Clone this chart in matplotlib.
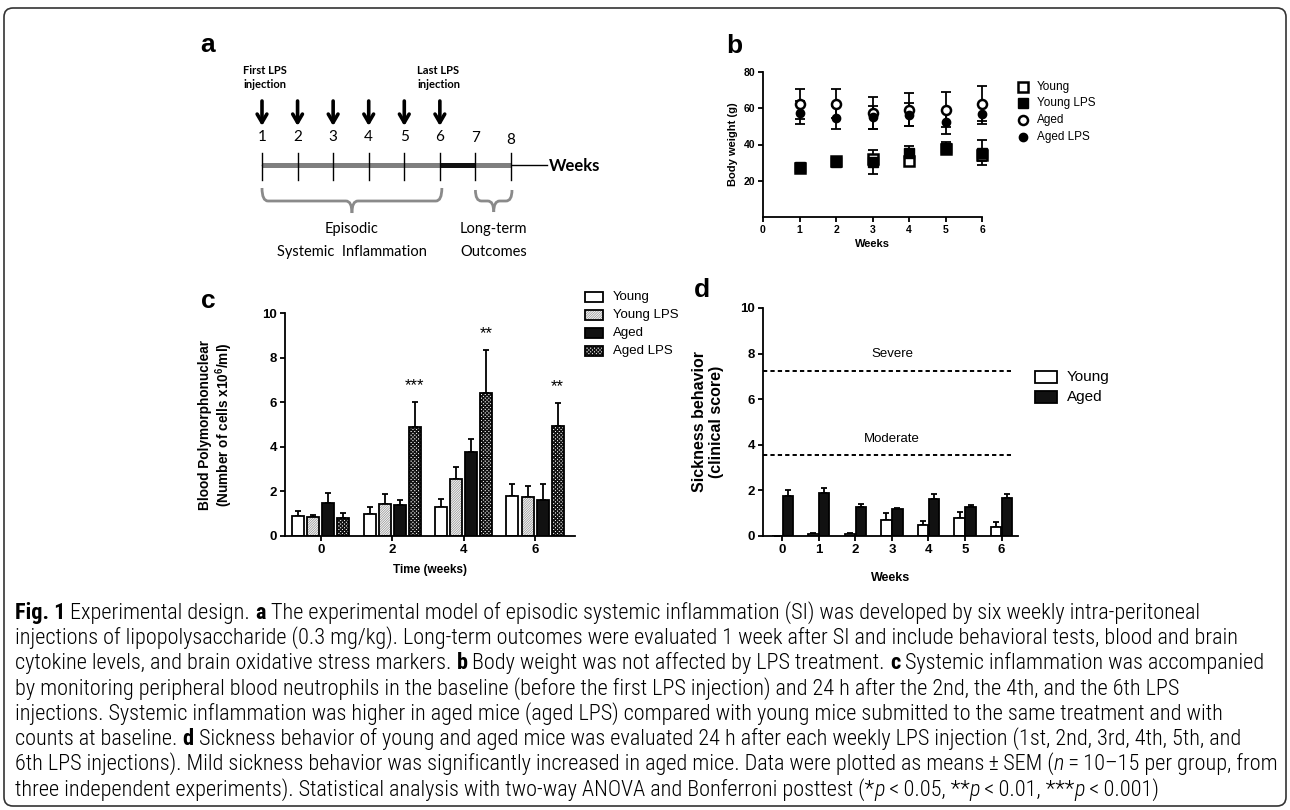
import matplotlib
matplotlib.use('Agg')
import matplotlib.pyplot as plt
import numpy as np
from matplotlib import font_manager
from matplotlib.patches import Rectangle, FancyBboxPatch, PathPatch
from matplotlib.path import Path

# ---------------- data ----------------
# panel a
weeks_a = [1, 2, 3, 4, 5, 6, 7, 8]
injection_weeks = [1, 2, 3, 4, 5, 6]

# panel b: body weight (g)
weeks_b = [1, 2, 3, 4, 5, 6]
young_bw = [27.0, 31.0, 32.0, 31.0, 37.5, 34.0]
young_bw_err = [1.5, 1.5, 2.0, 1.5, 3.0, 3.0]
young_lps_bw = [27.5, 30.5, 30.5, 35.5, 38.0, 35.5]
young_lps_bw_err = [1.5, 1.5, 6.5, 3.5, 3.5, 7.0]
aged_bw = [62.2, 62.6, 57.4, 59.3, 59.3, 62.6]
aged_bw_err = [8.2, 8.0, 8.8, 9.0, 9.5, 9.5]
aged_lps_bw = [57.6, 54.7, 54.9, 56.5, 52.3, 56.7]
aged_lps_bw_err = [6.4, 6.3, 6.5, 6.2, 6.4, 5.5]
legend_b = ['Young', 'Young LPS', 'Aged', 'Aged LPS']

# panel c: blood polymorphonuclear cells
time_labels_c = ['0', '2', '4', '6']
young_pmn = [0.90, 1.00, 1.30, 1.80]
young_pmn_err = [0.20, 0.30, 0.35, 0.55]
young_lps_pmn = [0.85, 1.45, 2.55, 1.75]
young_lps_pmn_err = [0.10, 0.45, 0.55, 0.50]
aged_pmn = [1.50, 1.40, 3.75, 1.60]
aged_pmn_err = [0.45, 0.20, 0.60, 0.75]
aged_lps_pmn = [0.80, 4.90, 6.40, 4.95]
aged_lps_pmn_err = [0.25, 1.10, 1.95, 1.00]
stars_c = ['', '***', '**', '**']
legend_c = ['Young', 'Young LPS', 'Aged', 'Aged LPS']

# panel d: sickness behaviour
weeks_d = [0, 1, 2, 3, 4, 5, 6]
young_sick = [0.00, 0.10, 0.10, 0.70, 0.50, 0.80, 0.40]
young_sick_err = [0.00, 0.05, 0.05, 0.30, 0.15, 0.25, 0.20]
aged_sick = [1.77, 1.90, 1.29, 1.18, 1.62, 1.29, 1.68]
aged_sick_err = [0.25, 0.19, 0.11, 0.06, 0.21, 0.07, 0.16]
severe_level = 7.25
moderate_level = 3.55
legend_d = ['Young', 'Aged']

# caption (text, style) segments per line
caption_lines = [
    [("Fig. 1", 'b'), (" Experimental design. ", ''), ("a", 'b'),
     (" The experimental model of episodic systemic inflammation (SI) was developed by six weekly intra-peritoneal", '')],
    [("injections of lipopolysaccharide (0.3 mg/kg). Long-term outcomes were evaluated 1 week after SI and include behavioral tests, blood and brain", '')],
    [("cytokine levels, and brain oxidative stress markers. ", ''), ("b", 'b'),
     (" Body weight was not affected by LPS treatment. ", ''), ("c", 'b'),
     (" Systemic inflammation was accompanied", '')],
    [("by monitoring peripheral blood neutrophils in the baseline (before the first LPS injection) and 24 h after the 2nd, the 4th, and the 6th LPS", '')],
    [("injections. Systemic inflammation was higher in aged mice (aged LPS) compared with young mice submitted to the same treatment and with", '')],
    [("counts at baseline. ", ''), ("d", 'b'),
     (" Sickness behavior of young and aged mice was evaluated 24 h after each weekly LPS injection (1st, 2nd, 3rd, 4th, 5th, and", '')],
    [("6th LPS injections). Mild sickness behavior was significantly increased in aged mice. Data were plotted as means\u2009\u00b1\u2009SEM (", ''),
     ("n", 'i'), ("\u2009=\u200910\u201315 per group, from", '')],
    [("three independent experiments). Statistical analysis with two-way ANOVA and Bonferroni posttest (*", ''),
     ("p", 'i'), ("\u2009<\u20090.05, **", ''), ("p", 'i'), ("\u2009<\u20090.01, ***", ''), ("p", 'i'), ("\u2009<\u20090.001)", '')],
]

# ---------------- fonts ----------------
names = {f.name for f in font_manager.fontManager.ttflist}
SANS = 'Liberation Sans' if 'Liberation Sans' in names else 'DejaVu Sans'
DIAG = 'Lato' if 'Lato' in names else SANS
if 'Liberation Sans Narrow' in names:
    CAP_FAMILY, CAP_STRETCH, CAP_WEIGHT = 'Liberation Sans Narrow', 'normal', 'normal'
elif 'Roboto Condensed' in names:
    CAP_FAMILY, CAP_STRETCH, CAP_WEIGHT = 'Roboto Condensed', 'normal', 'light'
else:
    CAP_FAMILY, CAP_STRETCH, CAP_WEIGHT = 'DejaVu Sans', 'condensed', 'normal'

plt.rcParams['font.family'] = [SANS, 'DejaVu Sans']
plt.rcParams['mathtext.fontset'] = 'custom'
plt.rcParams['mathtext.rm'] = SANS
plt.rcParams['mathtext.bf'] = SANS + ':bold'
plt.rcParams['mathtext.it'] = SANS + ':italic'

W, H = 1290, 810
fig = plt.figure(figsize=(W / 100, H / 100), dpi=100)

# overlay axes in pixel coordinates
ov = fig.add_axes([0, 0, 1, 1])
ov.set_xlim(0, W)
ov.set_ylim(H, 0)
ov.axis('off')

def px_axes(x0, y0, x1, y1):
    ax = fig.add_axes([x0 / W, 1 - y1 / H, (x1 - x0) / W, (y1 - y0) / H])
    ax.patch.set_alpha(0)
    return ax

def prism_style(ax, tick_size, lw=1.3):
    for s in ['top', 'right']:
        ax.spines[s].set_visible(False)
    for s in ['left', 'bottom']:
        ax.spines[s].set_linewidth(lw)
    ax.tick_params(direction='out', length=3.5, width=lw, labelsize=tick_size, pad=2)
    for lbl in ax.get_xticklabels() + ax.get_yticklabels():
        lbl.set_fontweight('bold')

# outer frame
ov.add_patch(FancyBboxPatch((4, 8), W - 8, H - 12, boxstyle='round,pad=0,rounding_size=9',
                            fill=False, ec='#333333', lw=1.2))

# ---------------- panel a ----------------
def wx(w):
    return 262 + (w - 1) * (511 - 262) / 7.0

ov.text(208, 52, 'a', fontsize=19, fontweight='bold', ha='center', va='baseline')
ov.text(243, 71, 'First LPS', fontsize=8, fontweight='bold', family=DIAG, va='center')
ov.text(243, 84, 'injection', fontsize=8, fontweight='bold', family=DIAG, va='center')
ov.text(417, 71, 'Last LPS', fontsize=8, fontweight='bold', family=DIAG, va='center')
ov.text(417, 84, 'injection', fontsize=8, fontweight='bold', family=DIAG, va='center')
for w in injection_weeks:
    ov.annotate('', xy=(wx(w), 126), xytext=(wx(w), 101),
                arrowprops=dict(arrowstyle='->,head_length=0.6,head_width=0.35', lw=2.6,
                                color='k', shrinkA=0, shrinkB=0))
for w in weeks_a:
    dy = 3 if w == 8 else (1 if w == 7 else 0)
    ov.text(wx(w), 137 + dy, str(w), fontsize=11, family=DIAG, ha='center', va='center')
ov.plot([wx(1), 547], [165, 165], color='k', lw=1.0)
ov.plot([wx(1), wx(6)], [165, 165], color='#7f7f7f', lw=3.6, solid_capstyle='butt')
ov.plot([wx(6), wx(7)], [165, 165], color='#111111', lw=3.6, solid_capstyle='butt')
ov.plot([wx(7), wx(8)], [165, 165], color='#7f7f7f', lw=3.6, solid_capstyle='butt')
for w in weeks_a:
    ov.plot([wx(w), wx(w)], [153, 180], color='k', lw=1.0)
ov.text(549, 166, 'Weeks', fontsize=12, fontweight='bold', family=DIAG, ha='left', va='center')

def brace(x0, x1, ytop, ybar, ytip, r=6):
    xm = (x0 + x1) / 2.0
    for xs, sgn in ((x0, 1), (x1, -1)):
        verts = [(xs, ytop), (xs, ybar), (xs + sgn * r, ybar), (xm - sgn * r, ybar),
                 (xm, ybar), (xm, ytip)]
        codes = [Path.MOVETO, Path.CURVE3, Path.CURVE3, Path.LINETO, Path.CURVE3, Path.CURVE3]
        ov.add_patch(PathPatch(Path(verts, codes), fill=False, ec='#8a8a8a', lw=2.0))
    return xm

xm1 = brace(wx(1), wx(6) + 2, 188, 201, 213)
xm2 = brace(wx(7), wx(8) + 1, 190, 201, 212)
ov.text(xm1, 229, 'Episodic', fontsize=10.5, family=DIAG, ha='center', va='center')
ov.text(xm1, 252, 'Systemic  Inflammation', fontsize=10.5, family=DIAG, ha='center', va='center')
ov.text(xm2, 229, 'Long-term', fontsize=10.5, family=DIAG, ha='center', va='center')
ov.text(xm2, 252, 'Outcomes', fontsize=10.5, family=DIAG, ha='center', va='center')

# ---------------- panel b ----------------
ov.text(734, 53, 'b', fontsize=19, fontweight='bold', ha='center', va='baseline')
axb = px_axes(763, 72, 982, 217)
b_series = [
    (young_bw, young_bw_err, dict(marker='s', mfc='white', mec='k', mew=1.8, ms=6.5)),
    (young_lps_bw, young_lps_bw_err, dict(marker='s', mfc='k', mec='k', mew=1.0, ms=7)),
    (aged_bw, aged_bw_err, dict(marker='o', mfc='white', mec='k', mew=1.8, ms=6.5)),
    (aged_lps_bw, aged_lps_bw_err, dict(marker='o', mfc='k', mec='k', mew=1.0, ms=6)),
]
for vals, errs, st in b_series:
    axb.errorbar(weeks_b, vals, yerr=errs, fmt='none', ecolor='k', elinewidth=1.3,
                 capsize=3.5, capthick=1.3, clip_on=False)
    axb.plot(weeks_b, vals, ls='none', clip_on=False, zorder=3, **st)
axb.set_xlim(0, 6)
axb.set_ylim(0, 80)
axb.set_xticks(range(0, 7))
axb.set_yticks([20, 40, 60, 80])
prism_style(axb, 7.5)
axb.set_xlabel('Weeks', fontsize=8, fontweight='bold', labelpad=3)
axb.set_ylabel('Body weight (g)', fontsize=8, fontweight='bold', labelpad=4)
leg_y = [87, 103, 120, 137]
for (vals, errs, st), name, y in zip(b_series, legend_b, leg_y):
    ov.plot([1023], [y], ls='none', **st)
    ov.text(1037, y, name, fontsize=8.5, va='center', ha='left')

# ---------------- panel c ----------------
ov.text(208, 308, 'c', fontsize=19, fontweight='bold', ha='center', va='baseline')
axc = px_axes(285, 313, 575, 536)
xc = np.arange(len(time_labels_c))
bw = 0.168
offs = [-0.316, -0.105, 0.105, 0.316]
c_series = [
    (young_pmn, young_pmn_err, dict(color='white', hatch=None, hc=None, hlw=0)),
    (young_lps_pmn, young_lps_pmn_err, dict(color='white', hatch='/' * 14, hc='#9a9a9a', hlw=0.6)),
    (aged_pmn, aged_pmn_err, dict(color='#111111', hatch=None, hc=None, hlw=0)),
    (aged_lps_pmn, aged_lps_pmn_err, dict(color='white', hatch='x' * 9, hc='#111111', hlw=1.0)),
]

def hatched_rect(ax, x, y, w, h, st, lw=1.3, zorder=2):
    if st['hatch']:
        with plt.rc_context({'hatch.linewidth': st['hlw']}):
            ax.add_patch(Rectangle((x, y), w, h, fc=st['color'], ec=st['hc'], hatch=st['hatch'],
                                   lw=0, zorder=zorder))
        ax.add_patch(Rectangle((x, y), w, h, fc='none', ec='k', lw=lw, zorder=zorder + 0.1))
    else:
        ax.add_patch(Rectangle((x, y), w, h, fc=st['color'], ec='k', lw=lw, zorder=zorder))

for (vals, errs, st), off in zip(c_series, offs):
    for xi, v in zip(xc + off, vals):
        hatched_rect(axc, xi - bw / 2, 0, bw, v, st)
    axc.errorbar(xc + off, vals, yerr=[np.zeros(len(vals)), errs], fmt='none', ecolor='k',
                 elinewidth=1.3, capsize=2.5, capthick=1.3, zorder=1.5)
for i, s in enumerate(stars_c):
    if s:
        top = aged_lps_pmn[i] + aged_lps_pmn_err[i]
        axc.text(xc[i] + offs[3], top + 0.4, s, fontsize=12, ha='center', va='bottom')
axc.set_xlim(-0.5, 3.56)
axc.set_ylim(0, 10)
axc.set_xticks(xc)
axc.set_xticklabels(time_labels_c)
axc.set_yticks([0, 2, 4, 6, 8, 10])
prism_style(axc, 9.5)
axc.set_xlabel('Time (weeks)', fontsize=8.5, fontweight='bold', labelpad=6)
axc.set_ylabel('Blood Polymorphonuclear\n(Number of cells x10$^{\\mathbf{6}}$/ml)', fontsize=9.8,
               fontweight='bold', labelpad=20, linespacing=1.1)
leg_cy = [297, 315, 333, 351]
for (vals, errs, st), name, y in zip(c_series, legend_c, leg_cy):
    hatched_rect(ov, 585, y - 5, 18, 10, st)
    ov.text(613, y, name, fontsize=9.5, va='center', ha='left')

# ---------------- panel d ----------------
ov.text(702, 297, 'd', fontsize=19, fontweight='bold', ha='center', va='baseline')
axd = px_axes(763, 308, 1018, 536)
xd = np.arange(len(weeks_d))
bwd = 0.28
d_series = [
    (young_sick, young_sick_err, dict(color='white', hatch=None, hc=None, hlw=0), -0.15),
    (aged_sick, aged_sick_err, dict(color='#111111', hatch=None, hc=None, hlw=0), 0.15),
]
for vals, errs, st, off in d_series:
    for xi, v in zip(xd + off, vals):
        hatched_rect(axd, xi - bwd / 2, 0, bwd, v, st)
    axd.errorbar(xd + off, vals, yerr=[np.zeros(len(vals)), np.array(errs)], fmt='none', ecolor='k',
                 elinewidth=1.3, capsize=2.5, capthick=1.3, zorder=1.5)
axd.hlines([severe_level, moderate_level], -0.53, 6.27, colors='k', linestyles=(0, (2.2, 1.6)), lw=1.4)
axd.text(3.0, severe_level + 0.45, 'Severe', fontsize=9.5, ha='center', va='bottom')
axd.text(3.0, moderate_level + 0.45, 'Moderate', fontsize=9.5, ha='center', va='bottom')
axd.set_xlim(-0.53, 6.45)
axd.set_ylim(0, 10)
axd.set_xticks(xd)
axd.set_xticklabels([str(w) for w in weeks_d])
axd.set_yticks([0, 2, 4, 6, 8, 10])
prism_style(axd, 9.5)
axd.set_xlabel('Weeks', fontsize=9, fontweight='bold', labelpad=12)
axd.set_ylabel('Sickness behavior\n(clinical score)', fontsize=11.5, fontweight='bold',
               labelpad=12, linespacing=1.2)
leg_dy = [377, 397]
for (vals, errs, st, off), name, y in zip(d_series, legend_d, leg_dy):
    hatched_rect(ov, 1035, y - 6, 22, 12, st)
    ov.text(1067, y, name, fontsize=11, va='center', ha='left')

# ---------------- caption ----------------
renderer = fig.canvas.get_renderer()

def seg_kw(style, size):
    kw = dict(fontsize=size, family=[CAP_FAMILY, 'DejaVu Sans'], fontstretch=CAP_STRETCH,
              fontweight=CAP_WEIGHT)
    if style == 'b':
        kw['fontweight'] = 'bold'
    if style == 'i':
        kw['fontstyle'] = 'italic'
    return kw

def seg_width(txt, style, size):
    t1 = ov.text(0, 0, txt + '|', **seg_kw(style, size))
    t2 = ov.text(0, 0, '|', **seg_kw(style, size))
    w = t1.get_window_extent(renderer).width - t2.get_window_extent(renderer).width
    t1.remove(); t2.remove()
    return w

max_w = max(sum(seg_width(t, s, 10) for t, s in line) for line in caption_lines)
cap_size = 10 * (1268.0 / max_w)
line_y = [613, 638, 663, 689, 714, 739, 764, 790]
for segs, y in zip(caption_lines, line_y):
    x = 15
    for txt, style in segs:
        ov.text(x, y + 6, txt, va='baseline', ha='left', **seg_kw(style, cap_size))
        x += seg_width(txt, style, cap_size)

fig.savefig('out.png', dpi=100)
